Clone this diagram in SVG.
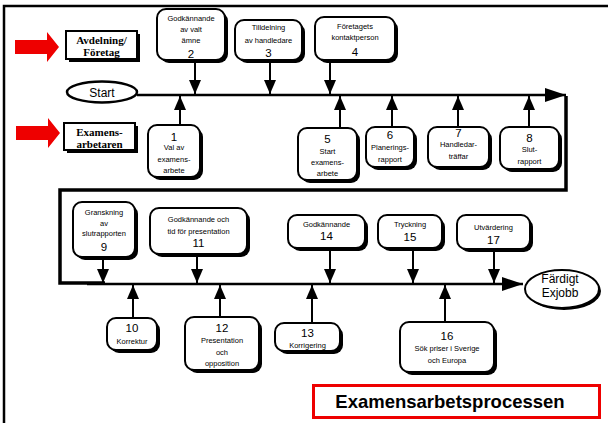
<svg xmlns="http://www.w3.org/2000/svg" width="608" height="423" viewBox="0 0 608 423">
<style>
.sh{fill:#000;}
.bx{fill:#fff;stroke:#000;stroke-width:2;}
.lb{font-family:"Liberation Sans",Arial,sans-serif;font-size:7.5px;fill:#000;text-anchor:middle;}
.nm{font-family:"Liberation Sans",Arial,sans-serif;font-size:11.5px;fill:#000;text-anchor:middle;}
.sf{font-family:"Liberation Serif","Times New Roman",serif;font-size:11px;font-weight:bold;fill:#000;text-anchor:middle;}
.ln{stroke:#000;stroke-width:2;fill:none;}
.main{stroke:#000;stroke-width:2.5;fill:none;}
.red{fill:#ee0000;}
</style>
<defs>
<marker id="ah" viewBox="0 0 14 12" refX="14" refY="6" markerWidth="14" markerHeight="12" markerUnits="userSpaceOnUse" orient="auto">
<path d="M0,0 L14,6 L0,12 Z" fill="#000"/>
</marker>
<marker id="big" viewBox="0 0 21 14" refX="21" refY="7" markerWidth="21" markerHeight="14" markerUnits="userSpaceOnUse" orient="auto">
<path d="M0,0 L21,7 L0,14 Z" fill="#000"/>
</marker>
</defs>
<rect x="0" y="0" width="608" height="423" fill="#fff"/>
<!-- outer frame -->
<path d="M4,423 L4,6 L608,6" stroke="#000" stroke-width="2.5" fill="none"/>
<!-- inner frame -->
<path d="M566,96 L566,190 L60,190 L60,283 L105,283" stroke="#000" stroke-width="3.5" fill="none"/>

<!-- red arrows and role labels -->
<g id="role-avdelning">
<polygon class="red" points="15,40 47,40 47,32 59,47 47,62 47,54 15,54"/>
<rect class="sh" x="69" y="34" width="71" height="28"/>
<rect class="bx" x="66" y="31" width="71" height="28"/>
<text class="sf" x="101.5" y="44">Avdelning/</text>
<text class="sf" x="101.5" y="56">Företag</text>
</g>
<g id="role-examens">
<polygon class="red" points="16,126 48,126 48,118 60,133 48,148 48,140 16,140"/>
<rect class="sh" x="67" y="126" width="71" height="27"/>
<rect class="bx" x="64" y="123" width="71" height="27"/>
<text class="sf" x="99.5" y="136">Examens-</text>
<text class="sf" x="99.5" y="147.5">arbetaren</text>
</g>

<!-- connectors -->
<g id="connectors">
<line class="main" x1="137" y1="95" x2="566" y2="95" marker-end="url(#big)"/>
<line class="main" x1="87" y1="284" x2="523" y2="284" marker-end="url(#big)"/>
<line class="ln" x1="195" y1="63" x2="195" y2="94" marker-end="url(#ah)"/>
<line class="ln" x1="270" y1="63" x2="270" y2="94" marker-end="url(#ah)"/>
<line class="ln" x1="330" y1="63" x2="330" y2="94" marker-end="url(#ah)"/>
<line class="ln" x1="180" y1="125" x2="180" y2="96" marker-end="url(#ah)"/>
<line class="ln" x1="340" y1="128" x2="340" y2="96" marker-end="url(#ah)"/>
<line class="ln" x1="392" y1="127" x2="392" y2="96" marker-end="url(#ah)"/>
<line class="ln" x1="458" y1="127" x2="458" y2="96" marker-end="url(#ah)"/>
<line class="ln" x1="529" y1="127" x2="529" y2="96" marker-end="url(#ah)"/>
<line class="ln" x1="103" y1="260" x2="103" y2="283" marker-end="url(#ah)"/>
<line class="ln" x1="197" y1="257" x2="197" y2="283" marker-end="url(#ah)"/>
<line class="ln" x1="330" y1="251" x2="330" y2="283" marker-end="url(#ah)"/>
<line class="ln" x1="413" y1="251" x2="413" y2="283" marker-end="url(#ah)"/>
<line class="ln" x1="494" y1="252" x2="494" y2="283" marker-end="url(#ah)"/>
<line class="ln" x1="133" y1="318" x2="133" y2="285" marker-end="url(#ah)"/>
<line class="ln" x1="220" y1="317" x2="220" y2="285" marker-end="url(#ah)"/>
<line class="ln" x1="312" y1="323" x2="312" y2="285" marker-end="url(#ah)"/>
<line class="ln" x1="445" y1="322" x2="445" y2="285" marker-end="url(#ah)"/>
</g>

<g id="start">
<ellipse cx="102" cy="92" rx="35" ry="10.5" fill="#fff" stroke="#000" stroke-width="2.5"/>
<text x="102" y="96.5" font-family="Liberation Sans,Arial,sans-serif" font-size="12" text-anchor="middle">Start</text>
</g>

<g id="n2">
<rect class="sh" x="160" y="12" width="68" height="51" rx="9"/>
<rect class="bx" x="157" y="9" width="68" height="51" rx="9"/>
<text class="lb" x="191" y="21">Godkännande</text>
<text class="lb" x="191" y="32">av valt</text>
<text class="lb" x="191" y="43">ämne</text>
<text class="nm" x="191" y="58">2</text>
</g>
<g id="n3">
<rect class="sh" x="238" y="23" width="67" height="40" rx="9"/>
<rect class="bx" x="235" y="20" width="67" height="40" rx="9"/>
<text class="lb" x="268.5" y="30">Tilldelning</text>
<text class="lb" x="268.5" y="43">av handledare</text>
<text class="nm" x="268.5" y="57">3</text>
</g>
<g id="n4">
<rect class="sh" x="318" y="20" width="80" height="43" rx="9"/>
<rect class="bx" x="315" y="17" width="80" height="43" rx="9"/>
<text class="lb" x="355" y="29">Företagets</text>
<text class="lb" x="355" y="40">kontaktperson</text>
<text class="nm" x="355" y="56">4</text>
</g>
<g id="n1">
<rect class="sh" x="151" y="128" width="52" height="52" rx="9"/>
<rect class="bx" x="148" y="125" width="52" height="52" rx="9"/>
<text class="nm" x="174" y="141" font-size="10">1</text>
<text class="lb" x="174" y="150">Val av</text>
<text class="lb" x="174" y="162">examens-</text>
<text class="lb" x="174" y="173">arbete</text>
</g>
<g id="n5">
<rect class="sh" x="301" y="131" width="59" height="52" rx="9"/>
<rect class="bx" x="298" y="128" width="59" height="52" rx="9"/>
<text class="nm" x="327.5" y="143">5</text>
<text class="lb" x="327.5" y="154">Start</text>
<text class="lb" x="327.5" y="165">examens-</text>
<text class="lb" x="327.5" y="176">arbete</text>
</g>
<g id="n6">
<rect class="sh" x="369" y="130" width="48" height="40" rx="9"/>
<rect class="bx" x="366" y="127" width="48" height="40" rx="9"/>
<text class="nm" x="390" y="139">6</text>
<text class="lb" x="390" y="150">Planerings-</text>
<text class="lb" x="390" y="162">rapport</text>
</g>
<g id="n7">
<rect class="sh" x="431" y="130" width="61" height="40" rx="9"/>
<rect class="bx" x="428" y="127" width="61" height="40" rx="9"/>
<text class="nm" x="458.5" y="137" font-size="9">7</text>
<text class="lb" x="458.5" y="147">Handledar-</text>
<text class="lb" x="458.5" y="159">träffar</text>
</g>
<g id="n8">
<rect class="sh" x="503" y="130" width="59" height="42" rx="9"/>
<rect class="bx" x="500" y="127" width="59" height="42" rx="9"/>
<text class="nm" x="529.5" y="142">8</text>
<text class="lb" x="529.5" y="152">Slut-</text>
<text class="lb" x="529.5" y="164">rapport</text>
</g>

<g id="n9">
<rect class="sh" x="76" y="205" width="62" height="55" rx="9"/>
<rect class="bx" x="73" y="202" width="62" height="55" rx="9"/>
<text class="lb" x="104" y="215">Granskning</text>
<text class="lb" x="104" y="226">av</text>
<text class="lb" x="104" y="236">slutrapporten</text>
<text class="nm" x="104" y="251">9</text>
</g>
<g id="n11">
<rect class="sh" x="153" y="211" width="97" height="46" rx="9"/>
<rect class="bx" x="150" y="208" width="97" height="46" rx="9"/>
<text class="lb" x="198.5" y="222">Godkännande och</text>
<text class="lb" x="198.5" y="234">tid för presentation</text>
<text class="nm" x="198.5" y="247">11</text>
</g>
<g id="n14">
<rect class="sh" x="291" y="218" width="77" height="33" rx="9"/>
<rect class="bx" x="288" y="215" width="77" height="33" rx="9"/>
<text class="lb" x="326.5" y="227">Godkännande</text>
<text class="nm" x="326.5" y="240">14</text>
</g>
<g id="n15">
<rect class="sh" x="381" y="218" width="64" height="33" rx="9"/>
<rect class="bx" x="378" y="215" width="64" height="33" rx="9"/>
<text class="lb" x="410" y="227">Tryckning</text>
<text class="nm" x="410" y="241">15</text>
</g>
<g id="n17">
<rect class="sh" x="460" y="218" width="73" height="34" rx="9"/>
<rect class="bx" x="457" y="215" width="73" height="34" rx="9"/>
<text class="lb" x="493.5" y="230">Utvärdering</text>
<text class="nm" x="493.5" y="244">17</text>
</g>
<g id="n10">
<rect class="sh" x="110" y="321" width="50" height="32" rx="9"/>
<rect class="bx" x="107" y="318" width="50" height="32" rx="9"/>
<text class="nm" x="132" y="332">10</text>
<text class="lb" x="132" y="344">Korrektur</text>
</g>
<g id="n12">
<rect class="sh" x="188" y="320" width="74" height="53" rx="9"/>
<rect class="bx" x="185" y="317" width="74" height="53" rx="9"/>
<text class="nm" x="222" y="332">12</text>
<text class="lb" x="222" y="343">Presentation</text>
<text class="lb" x="222" y="355">och</text>
<text class="lb" x="222" y="366">opposition</text>
</g>
<g id="n13">
<rect class="sh" x="278" y="326" width="65" height="28" rx="9"/>
<rect class="bx" x="275" y="323" width="65" height="28" rx="9"/>
<text class="nm" x="307.5" y="337">13</text>
<text class="lb" x="307.5" y="348">Korrigering</text>
</g>
<g id="n16">
<rect class="sh" x="403" y="325" width="94" height="50" rx="9"/>
<rect class="bx" x="400" y="322" width="94" height="50" rx="9"/>
<text class="nm" x="447" y="340">16</text>
<text class="lb" x="447" y="351">Sök priser i Sverige</text>
<text class="lb" x="447" y="363">och Europa</text>
</g>

<g id="end">
<ellipse cx="564" cy="291" rx="37" ry="19" fill="#000"/>
<ellipse cx="562" cy="289" rx="37" ry="19" fill="#fff" stroke="#000" stroke-width="2"/>
<text x="560" y="283" font-family="Liberation Sans,Arial,sans-serif" font-size="12" text-anchor="middle">Färdigt</text>
<text x="560" y="297" font-family="Liberation Sans,Arial,sans-serif" font-size="12" text-anchor="middle">Exjobb</text>
</g>

<g id="title">
<rect x="313.5" y="385.5" width="286" height="32" fill="#fff" stroke="#ee0000" stroke-width="3"/>
<text x="450" y="408" font-family="Liberation Sans,Arial,sans-serif" font-size="18.5" font-weight="bold" text-anchor="middle">Examensarbetsprocessen</text>
</g>
</svg>
